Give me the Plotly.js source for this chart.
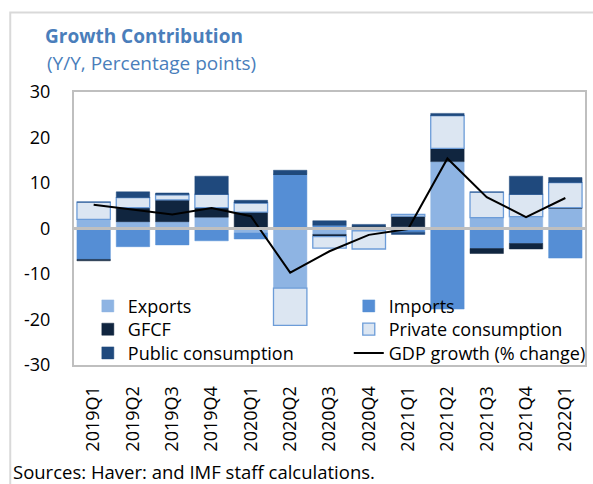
<!DOCTYPE html>
<html>
<head>
<meta charset="utf-8">
<script src="https://cdn.plot.ly/plotly-3.0.1.min.js"></script>
<style>
html, body { margin: 0; padding: 0; background: #ffffff; }
#chart { width: 593px; height: 484px; }
</style>
</head>
<body>
<div id="chart"></div>
<script>
const categories = ['2019Q1','2019Q2','2019Q3','2019Q4','2020Q1','2020Q2','2020Q3','2020Q4','2021Q1','2021Q2','2021Q3','2021Q4','2022Q1'];
const exportsVals = [2.0, 1.5, 1.5, 2.5, -1.0, -13.1, -1.3, 0.0, 0.4, 14.7, 2.4, 2.6, 4.4];
const importsVals = [-6.8, -4.0, -3.6, -2.7, -1.3, 11.9, 0.7, -0.5, -0.8, -17.7, -4.4, -3.3, -6.5];
const gfcfVals = [-0.3, 3.1, 4.8, 2.1, 3.6, 0.0, -0.5, 0.5, 2.3, 2.9, -1.1, -1.2, 0.2];
const privateVals = [3.8, 2.2, 1.1, 2.9, 2.0, -8.2, -2.5, -4.0, 0.4, 7.2, 5.6, 4.9, 5.5];
const publicVals = [0.0, 1.25, 0.4, 4.0, 0.6, 0.9, 1.0, 0.4, -0.5, 0.5, 0.0, 4.0, 1.1];
const gdpVals = [5.2, 4.2, 3.1, 4.5, 2.7, -9.7, -5.0, -1.4, -0.1, 15.4, 6.9, 2.5, 6.7];
const yTicks = [-30, -20, -10, 0, 10, 20, 30];

const FONT = 'Open Sans, Noto Sans, sans-serif';
const titleColor = '#4A7EBB';

const traces = [
  {type: 'bar', name: 'Exports', x: categories, y: exportsVals, legend: 'legend',
   marker: {color: '#8EB4E3', line: {color: '#8EB4E3', width: 0.5}}},
  {type: 'bar', name: 'Imports', x: categories, y: importsVals, legend: 'legend2',
   marker: {color: '#558ED5', line: {color: '#558ED5', width: 0.5}}},
  {type: 'bar', name: 'GFCF', x: categories, y: gfcfVals, legend: 'legend3',
   marker: {color: '#10253F', line: {color: '#10253F', width: 0.5}}},
  {type: 'bar', name: 'Private consumption', x: categories, y: privateVals, legend: 'legend4',
   marker: {color: '#DCE6F2', line: {color: '#6C9CD8', width: 1.3}}},
  {type: 'bar', name: 'Public consumption', x: categories, y: publicVals, legend: 'legend5',
   marker: {color: '#1F497D', line: {color: '#1F497D', width: 0.5}}},
  {type: 'scatter', mode: 'lines', name: 'GDP growth (% change)', x: categories, y: gdpVals, legend: 'legend6',
   line: {color: '#000000', width: 2}}
];

const legendCommon = {
  orientation: 'v',
  yanchor: 'top',
  xanchor: 'left',
  bgcolor: 'rgba(0,0,0,0)',
  font: {family: FONT, size: 18, color: '#000000'},
  traceorder: 'normal',
  tracegroupgap: 0
};
const col1 = 14/517, col2 = (352-74)/517;
const rowTop = function (px) { return (365 - px) / 273; };

const layout = {
  width: 593, height: 484,
  margin: {l: 74, r: 2, t: 92, b: 119},
  paper_bgcolor: '#ffffff', plot_bgcolor: '#ffffff',
  font: {family: FONT, size: 18, color: '#000000'},
  barmode: 'relative',
  bargap: 0.15,
  showlegend: true,
  title: {
    text: '<b>Growth Contribution</b>',
    font: {family: FONT, size: 19, color: titleColor},
    xref: 'container', yref: 'container',
    x: 45/593, xanchor: 'left',
    y: 1 - 36.5/484, yanchor: 'middle'
  },
  xaxis: {
    type: 'category',
    tickangle: -90,
    tickfont: {family: FONT, size: 18, color: '#000000'},
    showline: true, mirror: true, linecolor: '#BFBFBF', linewidth: 2,
    showgrid: false, ticks: 'outside', ticklen: 12, tickcolor: 'rgba(0,0,0,0)'
  },
  yaxis: {
    range: [-30, 30],
    tickvals: yTicks,
    ticktext: yTicks.map(String),
    tickfont: {family: FONT, size: 18, color: '#000000'},
    showline: true, mirror: true, linecolor: '#BFBFBF', linewidth: 2,
    showgrid: false,
    zeroline: true, zerolinecolor: '#BFBFBF', zerolinewidth: 2.5,
    zerolinelayer: 'above traces',
    ticks: 'outside', ticklen: 18, tickcolor: 'rgba(0,0,0,0)'
  },
  legend:  Object.assign({}, legendCommon, {x: col1, y: rowTop(287.7)}),
  legend2: Object.assign({}, legendCommon, {x: col2, y: rowTop(287.7)}),
  legend3: Object.assign({}, legendCommon, {x: col1, y: rowTop(311)}),
  legend4: Object.assign({}, legendCommon, {x: col2, y: rowTop(311)}),
  legend5: Object.assign({}, legendCommon, {x: col1, y: rowTop(334.7)}),
  legend6: Object.assign({}, legendCommon, {x: col2, y: rowTop(334.7)}),
  annotations: [
    {text: '(Y/Y, Percentage points)', xref: 'paper', yref: 'paper',
     x: (45-74)/517, xanchor: 'left', y: (365-63)/273, yanchor: 'middle',
     showarrow: false, font: {family: FONT, size: 19, color: titleColor}},
    {text: 'Sources: Haver: and IMF staff calculations.', xref: 'paper', yref: 'paper',
     x: (10-74)/517, xanchor: 'left', y: (365-471)/273, yanchor: 'middle',
     showarrow: false, font: {family: FONT, size: 18.5, color: '#000000'}}
  ],
  shapes: [
    {type: 'rect', xref: 'paper', yref: 'paper', layer: 'below',
     x0: (9.5-74)/517, x1: 1.2, y0: -0.6, y1: (365-12.5)/273,
     line: {color: '#D9D9D9', width: 2}, fillcolor: 'rgba(0,0,0,0)'}
  ]
};

Plotly.newPlot('chart', traces, layout, {displayModeBar: false, staticPlot: true});
</script>
</body>
</html>
